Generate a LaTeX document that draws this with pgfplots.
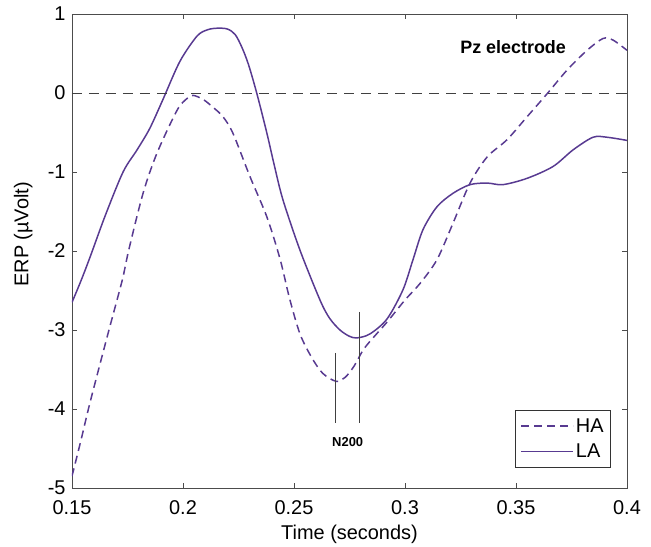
\documentclass[border=0pt]{standalone}
\usepackage{pgfplots}
\pgfplotsset{compat=1.18}
\usepackage{fontspec}
\setmainfont{Liberation Sans}
\definecolor{erp}{RGB}{88,58,145}
\pgfplotstableread{
x y
0.1500 -2.65
0.1540 -2.38
0.1581 -2.08
0.1650 -1.55
0.1730 -1.00
0.1793 -0.72
0.1850 -0.45
0.1910 -0.08
0.1986 0.40
0.2063 0.72
0.2110 0.80
0.2153 0.82
0.2200 0.81
0.2235 0.74
0.2265 0.58
0.2295 0.36
0.2333 -0.01
0.2378 -0.51
0.2410 -0.90
0.2450 -1.35
0.2527 -1.99
0.2617 -2.62
0.2660 -2.85
0.2707 -3.00
0.2750 -3.08
0.2784 -3.10
0.2842 -3.05
0.2919 -2.86
0.2991 -2.49
0.3036 -2.11
0.3081 -1.73
0.3144 -1.44
0.3216 -1.27
0.3293 -1.16
0.3370 -1.14
0.3441 -1.16
0.3550 -1.08
0.3667 -0.93
0.3757 -0.72
0.3847 -0.56
0.3910 -0.56
0.4000 -0.60
}\LA
\pgfplotstableread{
x y
0.1500 -4.85
0.1540 -4.40
0.1581 -3.92
0.1658 -3.09
0.1730 -2.33
0.1752 -2.03
0.1820 -1.27
0.1883 -0.76
0.1973 -0.22
0.2018 -0.07
0.2045 -0.03
0.2090 -0.08
0.2135 -0.18
0.2180 -0.30
0.2225 -0.51
0.2302 -1.06
0.2378 -1.57
0.2437 -2.10
0.2480 -2.60
0.2527 -3.05
0.2580 -3.35
0.2630 -3.55
0.2690 -3.65
0.2730 -3.60
0.2770 -3.46
0.2820 -3.22
0.2919 -2.90
0.3000 -2.62
0.3068 -2.41
0.3144 -2.11
0.3216 -1.65
0.3293 -1.14
0.3370 -0.81
0.3460 -0.59
0.3550 -0.30
0.3640 -0.01
0.3730 0.29
0.3820 0.54
0.3892 0.69
0.3937 0.67
0.4000 0.54
}\HA
\begin{document}
\begin{tikzpicture}
\useasboundingbox (-72bp,-59bp) rectangle (579bp,488bp);
\begin{axis}[
  at={(0,0)}, anchor=south west,
  scale only axis, width=555bp, height=474bp,
  xmin=0.15, xmax=0.4, ymin=-5, ymax=1,
  xtick={0.15,0.2,0.25,0.3,0.35,0.4},
  xticklabels={0.15,0.2,0.25,0.3,0.35,0.4},
  ytick={-5,-4,-3,-2,-1,0,1},
  yticklabels={-5,-4,-3,-2,-1,0,1},
  tick align=inside, major tick length=5bp,
  tick style={black!70, line width=0.6pt},
  axis line style={black!70, line width=0.8pt},
  ticklabel style={font=\fontsize{20}{21}\selectfont},
  xticklabel style={yshift=-9bp},
  yticklabel style={xshift=-3bp},
  xlabel={Time (seconds)}, ylabel={ERP (µVolt)},
  label style={font=\fontsize{20}{21}\selectfont},
  xlabel style={at={(rel axis cs:0.5,0)}, anchor=north, yshift=-34bp},
  ylabel style={at={(axis description cs:-0.088,0.535)}, anchor=center},
  legend style={at={(rel axis cs:0.971,0.044)}, anchor=south east,
    font=\fontsize{20}{21}\selectfont, draw=black!80, line width=0.6pt,
    inner xsep=5bp, inner ysep=6bp, row sep=6bp},
  legend cell align=left,
  legend image code/.code={\draw[#1] (0bp,0bp) -- (52bp,0bp);},
  clip=true,
]
\addplot[erp, line width=1.5pt, smooth, tension=0.5, dash pattern=on 8bp off 5bp] table[x=x,y=y]{\HA};
\addlegendentry{HA}
\addplot[erp, line width=1.5pt, smooth, tension=0.5] table[x=x,y=y]{\LA};
\addlegendentry{LA}
\addplot[black!75, line width=0.9pt, dash pattern=on 10bp off 7bp, forget plot] coordinates {(0.15,0) (0.4,0)};
\addplot[black!75, line width=0.9pt, forget plot] coordinates {(0.2685,-3.29) (0.2685,-4.18)};
\addplot[black!75, line width=0.9pt, forget plot] coordinates {(0.2797,-2.77) (0.2797,-4.18)};
\node[font=\bfseries\fontsize{13}{13}\selectfont] at (axis cs:0.2742,-4.42) {N200};
\node[font=\bfseries\fontsize{18}{20}\selectfont] at (axis cs:0.3487,0.58) {Pz electrode};
\end{axis}
\end{tikzpicture}
\end{document}
